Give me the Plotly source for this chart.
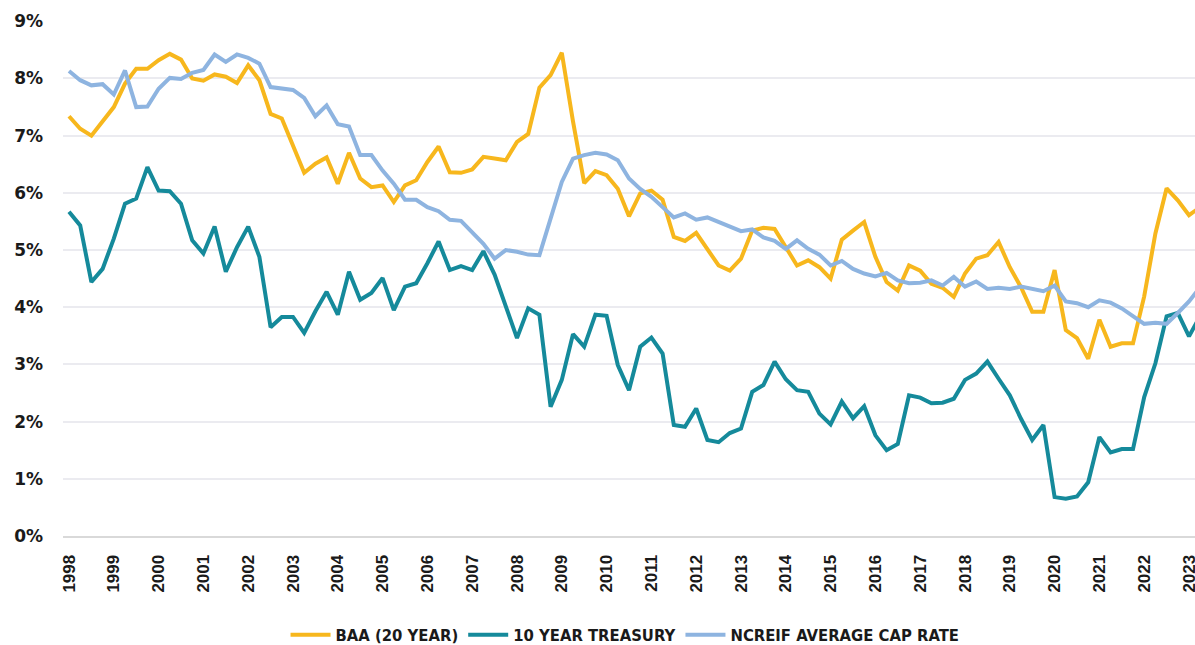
import plotly.graph_objects as go

years = list(range(1998, 2024))
year_labels = [str(y) for y in years]
quarters = [1998 + q / 4 for q in range(102)]

baa = [7.34, 7.12, 7.00, 7.24, 7.50, 7.91, 8.17, 8.17, 8.32, 8.43,
       8.33, 8.00, 7.96, 8.07, 8.03, 7.92, 8.23, 7.97, 7.38, 7.30,
       6.83, 6.35, 6.51, 6.62, 6.16, 6.70, 6.25, 6.10, 6.13, 5.84,
       6.13, 6.22, 6.54, 6.81, 6.36, 6.35, 6.41, 6.63, 6.60, 6.57,
       6.89, 7.03, 7.84, 8.06, 8.45, 7.25, 6.17, 6.38, 6.31, 6.07,
       5.59, 5.99, 6.04, 5.88, 5.23, 5.16, 5.30, 5.02, 4.73, 4.64,
       4.85, 5.34, 5.39, 5.37, 5.05, 4.73, 4.82, 4.70, 4.50, 5.18,
       5.34, 5.49, 4.88, 4.44, 4.29, 4.73, 4.64, 4.41, 4.34, 4.18,
       4.59, 4.85, 4.91, 5.14, 4.70, 4.35, 3.92, 3.92, 4.65, 3.60,
       3.46, 3.10, 3.78, 3.31, 3.37, 3.37, 4.19, 5.29, 6.08, 5.87,
       5.61, 5.75]

treasury = [5.67, 5.43, 4.44, 4.67, 5.20, 5.81, 5.90, 6.45, 6.04, 6.03,
            5.81, 5.17, 4.94, 5.41, 4.62, 5.05, 5.41, 4.88, 3.65, 3.83,
            3.83, 3.55, 3.93, 4.27, 3.87, 4.62, 4.13, 4.25, 4.51, 3.95,
            4.36, 4.42, 4.77, 5.15, 4.65, 4.72, 4.65, 4.98, 4.57, 4.00,
            3.46, 3.98, 3.87, 2.26, 2.73, 3.53, 3.31, 3.87, 3.85, 2.99,
            2.55, 3.31, 3.47, 3.19, 1.94, 1.91, 2.23, 1.68, 1.64, 1.80,
            1.88, 2.52, 2.64, 3.05, 2.74, 2.55, 2.52, 2.14, 1.95, 2.35,
            2.06, 2.27, 1.76, 1.50, 1.61, 2.46, 2.42, 2.32, 2.33, 2.40,
            2.73, 2.84, 3.05, 2.75, 2.46, 2.05, 1.68, 1.94, 0.68, 0.65,
            0.69, 0.94, 1.73, 1.46, 1.52, 1.52, 2.43, 3.02, 3.84, 3.90,
            3.49, 3.85]

ncreif = [8.13, 7.97, 7.88, 7.90, 7.72, 8.14, 7.50, 7.51, 7.82, 8.01,
          7.99, 8.10, 8.15, 8.42, 8.29, 8.42, 8.36, 8.26, 7.85, 7.82,
          7.80, 7.66, 7.34, 7.53, 7.20, 7.16, 6.66, 6.66, 6.39, 6.16,
          5.88, 5.88, 5.75, 5.68, 5.53, 5.51, 5.31, 5.11, 4.85, 5.00,
          4.97, 4.92, 4.91, 5.58, 6.19, 6.60, 6.66, 6.70, 6.67, 6.57,
          6.25, 6.07, 5.93, 5.75, 5.57, 5.64, 5.53, 5.57, 5.49, 5.41,
          5.33, 5.36, 5.22, 5.16, 5.02, 5.17, 5.02, 4.92, 4.73, 4.81,
          4.67, 4.59, 4.54, 4.60, 4.47, 4.42, 4.43, 4.47, 4.38, 4.53,
          4.36, 4.45, 4.32, 4.34, 4.32, 4.36, 4.32, 4.28, 4.38, 4.10,
          4.07, 4.00, 4.12, 4.08, 3.98, 3.84, 3.71, 3.73, 3.71, 3.90,
          4.10, 4.35]

y_ticks = list(range(0, 10))
y_labels = [f"{v}%" for v in y_ticks]

series = [
    ("BAA (20 YEAR)", baa, "#F7B71D"),
    ("10 YEAR TREASURY", treasury, "#158A9B"),
    ("NCREIF AVERAGE CAP RATE", ncreif, "#8EB4E0"),
]

fig = go.Figure()
for name, vals, color in series:
    fig.add_trace(go.Scatter(
        x=quarters, y=vals, name=name, mode="lines",
        line=dict(color=color, width=4),
    ))

fig.update_layout(
    width=1195, height=645,
    margin=dict(l=63, r=0, t=21, b=109, autoexpand=False),
    plot_bgcolor="white", paper_bgcolor="white",
    showlegend=True,
    legend=dict(
        orientation="h", x=0.4965, xanchor="center",
        y=-0.1922, yanchor="middle",
        font=dict(family="Liberation Sans Narrow, DejaVu Sans Condensed, sans-serif",
                  size=16.5, color="#1a1a1a", weight="bold"),
        itemwidth=40, tracegroupgap=0,
    ),
)

fig.update_xaxes(
    range=[1997.866, 2023.134],
    tickmode="array", tickvals=years, ticktext=year_labels,
    tickangle=-90,
    tickfont=dict(family="Liberation Sans, Arial, sans-serif", size=17,
                  color="#1a1a1a", weight="bold"),
    showgrid=False, zeroline=False,
    showline=True, linecolor="#d9d9d9", linewidth=2,
    ticks="", ticklabelstandoff=10, automargin=False,
    ticklabeloverflow="allow",
)

fig.update_yaxes(
    range=[0, 9.005],
    tickmode="array", tickvals=y_ticks, ticktext=y_labels,
    tickfont=dict(family="DejaVu Sans, sans-serif", size=17,
                  color="#1a1a1a", weight="bold"),
    showgrid=True, gridcolor="#ebebf0", gridwidth=1.5,
    zeroline=False, showline=False,
    ticks="", ticklabelstandoff=19, automargin=False,
)

fig.write_html(
    "out.html",
    config={"displayModeBar": False},
    post_script="document.body.style.margin='0';document.body.style.overflow='hidden';",
)
